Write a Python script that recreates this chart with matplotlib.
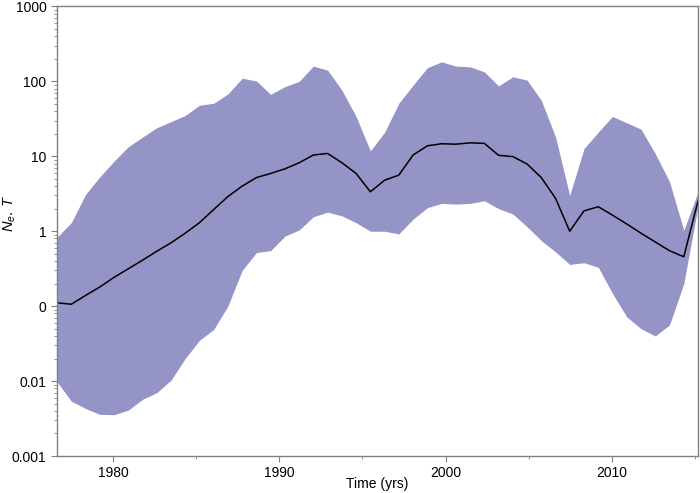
import numpy as np
import matplotlib
matplotlib.use('Agg')
import matplotlib.pyplot as plt
from matplotlib.ticker import LogLocator, NullFormatter

plt.rcParams['font.family'] = ['Liberation Sans', 'DejaVu Sans']
plt.rcParams['mathtext.fontset'] = 'custom'
plt.rcParams['mathtext.it'] = 'Liberation Sans:italic'
plt.rcParams['mathtext.rm'] = 'Liberation Sans'

# time points (years)
years = [1976.63, 1977.49, 1978.35, 1979.20, 1980.06, 1980.92, 1981.77, 1982.63,
         1983.49, 1984.34, 1985.20, 1986.06, 1986.91, 1987.77, 1988.63, 1989.48,
         1990.34, 1991.20, 1992.05, 1992.91, 1993.77, 1994.62, 1995.48, 1996.34,
         1997.19, 1998.05, 1998.91, 1999.76, 2000.62, 2001.48, 2002.33, 2003.19,
         2004.05, 2004.90, 2005.76, 2006.62, 2007.47, 2008.33, 2009.19, 2010.04,
         2010.90, 2011.76, 2012.61, 2013.47, 2014.33, 2015.18]

# median Ne.T
median = [0.111, 0.106, 0.139, 0.18, 0.242, 0.315, 0.41, 0.54, 0.70, 0.94,
          1.30, 1.95, 2.9, 4.0, 5.2, 5.9, 6.8, 8.2, 10.4, 10.9,
          8.2, 5.9, 3.36, 4.8, 5.6, 10.4, 13.8, 14.7, 14.5, 15.1,
          14.9, 10.3, 9.9, 7.9, 5.2, 2.74, 1.0, 1.87, 2.12, 1.64,
          1.25, 0.94, 0.72, 0.55, 0.456, 2.5]

# upper 95% HPD
upper = [0.83, 1.30, 3.1, 5.3, 8.6, 13.4, 18, 24, 29, 35,
         48, 51, 68, 110, 101, 67, 85, 100, 160, 141,
         76, 34, 11.8, 21, 51, 89, 152, 182, 160, 156,
         134, 87, 115, 104, 56, 18, 3.0, 12.7, 21, 34,
         28, 23, 10.9, 4.6, 1.03, 3.3]

# lower 95% HPD
lower = [0.0098, 0.0054, 0.0043, 0.0036, 0.00356, 0.0041, 0.0057, 0.007, 0.0103, 0.020,
         0.035, 0.049, 0.10, 0.30, 0.52, 0.55, 0.86, 1.04, 1.56, 1.8,
         1.6, 1.30, 1.0, 1.0, 0.92, 1.45, 2.06, 2.35, 2.3, 2.35,
         2.55, 2.0, 1.7, 1.15, 0.75, 0.53, 0.36, 0.38, 0.33, 0.148,
         0.072, 0.05, 0.040, 0.056, 0.20, 2.1]

ytick_vals = [0.001, 0.01, 0.1, 1, 10, 100, 1000]
ytick_labels = ['0.001', '0.01', '0', '1', '10', '100', '1000']
xtick_major = [1980, 1990, 2000, 2010]
xtick_minor = [1985, 1995, 2005, 2015]

fig = plt.figure(figsize=(7, 4.93), dpi=100)
ax = fig.add_axes([0.0814, 0.075, 0.9156, 0.912])

ax.fill_between(years, lower, upper, color='#9494c6', linewidth=0)
ax.plot(years, median, color='black', linewidth=1.1)

ax.set_yscale('log')
ax.set_ylim(0.001, 1000)
ax.set_xlim(1976.63, 2015.18)
ax.set_yticks(ytick_vals)
ax.set_yticklabels(ytick_labels)
ax.yaxis.set_minor_locator(LogLocator(base=10, subs=np.arange(2, 10), numticks=20))
ax.yaxis.set_minor_formatter(NullFormatter())
ax.set_xticks(xtick_major)
ax.set_xticks(xtick_minor, minor=True)

for s in ax.spines.values():
    s.set_color('#808080')
    s.set_linewidth(1.0)

ax.tick_params(axis='both', which='major', labelsize=10, length=4, color='#808080', direction='out')
ax.tick_params(axis='both', which='minor', length=2, color='#808080', direction='out')
ax.tick_params(axis='x', pad=3)

ax.set_xlabel('Time (yrs)', fontsize=10)
ax.xaxis.set_label_coords(0.5, -0.046)
ax.set_ylabel(r'$N_e.\,T$', fontsize=10.5)
ax.yaxis.set_label_coords(-0.061, 0.54)

fig.savefig('out.png', dpi=100)
